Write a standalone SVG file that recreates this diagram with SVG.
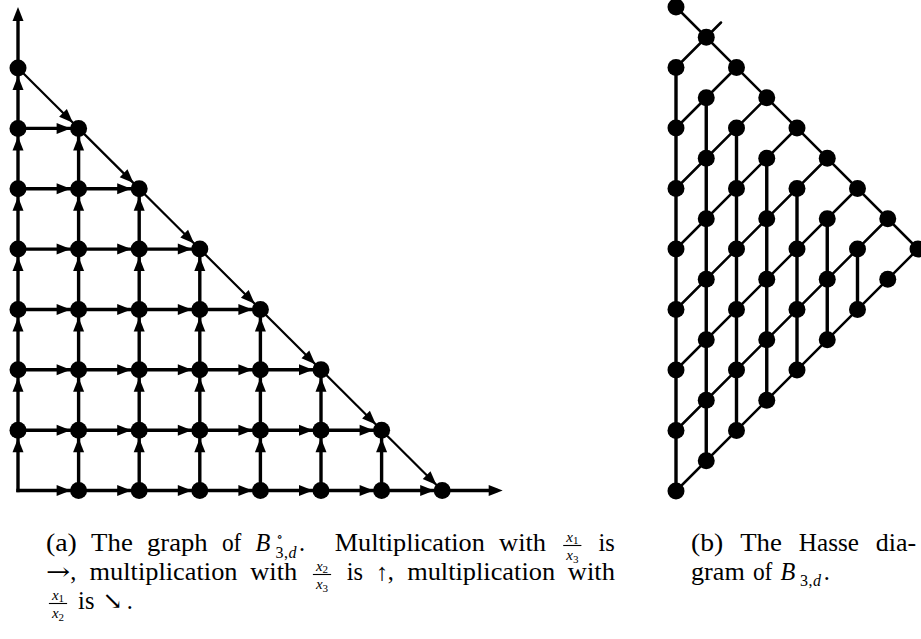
<svg xmlns="http://www.w3.org/2000/svg" width="921" height="639" viewBox="0 0 921 639">
<style>
.e{stroke:#000;stroke-width:3.4;stroke-linecap:square;fill:none;marker-end:url(#ah)}
.d{stroke-width:2.2}
.o{marker-end:url(#ae)}
.h{stroke:#000;stroke-width:3.4;fill:none}
.hd{stroke:#000;stroke-width:2.5;fill:none;stroke-linecap:round}
circle{fill:#000}
text{font-family:"Liberation Serif","DejaVu Serif",serif;font-size:24.2px;fill:#000}
.i{font-style:italic}
.s{font-size:15px}
.sb{font-size:16px}
.ss{font-size:11px}
.sym{font-family:"DejaVu Serif",serif}
.bar{stroke:#000;stroke-width:1.1}
</style>
<defs>
<marker id="ah" markerUnits="userSpaceOnUse" viewBox="-15 -7 16 14" markerWidth="16" markerHeight="14" refX="0" refY="0" orient="auto"><path d="M0 0L-14 -5.5L-14 5.5Z" fill="#000"/></marker>
<marker id="ae" markerUnits="userSpaceOnUse" viewBox="-15 -7 16 14" markerWidth="16" markerHeight="14" refX="-7" refY="0" orient="auto"><path d="M0 0L-14 -5.5L-14 5.5Z" fill="#000"/></marker>
</defs>
<g id="connectors-a">
<path class="e" d="M18 490.5h52.6"/><path class="e" d="M78.6 490.5h52.6"/><path class="e" d="M139.2 490.5h52.6"/><path class="e" d="M199.8 490.5h52.6"/><path class="e" d="M260.4 490.5h52.6"/><path class="e" d="M321 490.5h52.6"/><path class="e" d="M381.6 490.5h52.6"/>
<path class="e o" d="M442.2 490.5H495.7"/>
<path class="e" d="M18 430.2h52.6"/><path class="e" d="M78.6 430.2h52.6"/><path class="e" d="M139.2 430.2h52.6"/><path class="e" d="M199.8 430.2h52.6"/><path class="e" d="M260.4 430.2h52.6"/><path class="e" d="M321 430.2h52.6"/>
<path class="e" d="M18 369.8h52.6"/><path class="e" d="M78.6 369.8h52.6"/><path class="e" d="M139.2 369.8h52.6"/><path class="e" d="M199.8 369.8h52.6"/><path class="e" d="M260.4 369.8h52.6"/>
<path class="e" d="M18 309.5h52.6"/><path class="e" d="M78.6 309.5h52.6"/><path class="e" d="M139.2 309.5h52.6"/><path class="e" d="M199.8 309.5h52.6"/>
<path class="e" d="M18 249.1h52.6"/><path class="e" d="M78.6 249.1h52.6"/><path class="e" d="M139.2 249.1h52.6"/>
<path class="e" d="M18 188.8h52.6"/><path class="e" d="M78.6 188.8h52.6"/>
<path class="e" d="M18 128.4h52.6"/>
<path class="e" d="M18 490.5v-52.3"/><path class="e" d="M18 430.2v-52.4"/><path class="e" d="M18 369.8v-52.3"/><path class="e" d="M18 309.5v-52.4"/><path class="e" d="M18 249.1v-52.3"/><path class="e" d="M18 188.8v-52.4"/><path class="e" d="M18 128.4v-52.3"/>
<path class="e o" d="M18 68.1V14"/>
<path class="e" d="M78.6 490.5v-52.3"/><path class="e" d="M78.6 430.2v-52.4"/><path class="e" d="M78.6 369.8v-52.3"/><path class="e" d="M78.6 309.5v-52.4"/><path class="e" d="M78.6 249.1v-52.3"/><path class="e" d="M78.6 188.8v-52.4"/>
<path class="e" d="M139.2 490.5v-52.3"/><path class="e" d="M139.2 430.2v-52.4"/><path class="e" d="M139.2 369.8v-52.3"/><path class="e" d="M139.2 309.5v-52.4"/><path class="e" d="M139.2 249.1v-52.3"/>
<path class="e" d="M199.8 490.5v-52.3"/><path class="e" d="M199.8 430.2v-52.4"/><path class="e" d="M199.8 369.8v-52.3"/><path class="e" d="M199.8 309.5v-52.4"/>
<path class="e" d="M260.4 490.5v-52.3"/><path class="e" d="M260.4 430.2v-52.4"/><path class="e" d="M260.4 369.8v-52.3"/>
<path class="e" d="M321 490.5v-52.3"/><path class="e" d="M321 430.2v-52.4"/>
<path class="e" d="M381.6 490.5v-52.3"/>
<path class="e d" d="M18 68.1l54.93 54.71"/><path class="e d" d="M78.6 128.4l54.93 54.71"/><path class="e d" d="M139.2 188.8l54.93 54.71"/><path class="e d" d="M199.8 249.1l54.93 54.71"/><path class="e d" d="M260.4 309.5l54.93 54.71"/><path class="e d" d="M321 369.8l54.93 54.71"/><path class="e d" d="M381.6 430.2l54.93 54.71"/>
</g>
<g id="nodes-a">
<g id="a-0-1"><circle cx="18" cy="430.2" r="8.5"/></g><g id="a-0-2"><circle cx="18" cy="369.8" r="8.5"/></g><g id="a-0-3"><circle cx="18" cy="309.5" r="8.5"/></g><g id="a-0-4"><circle cx="18" cy="249.1" r="8.5"/></g><g id="a-0-5"><circle cx="18" cy="188.8" r="8.5"/></g><g id="a-0-6"><circle cx="18" cy="128.4" r="8.5"/></g><g id="a-0-7"><circle cx="18" cy="68.1" r="8.5"/></g>
<g id="a-1-0"><circle cx="78.6" cy="490.5" r="8.5"/></g><g id="a-1-1"><circle cx="78.6" cy="430.2" r="8.5"/></g><g id="a-1-2"><circle cx="78.6" cy="369.8" r="8.5"/></g><g id="a-1-3"><circle cx="78.6" cy="309.5" r="8.5"/></g><g id="a-1-4"><circle cx="78.6" cy="249.1" r="8.5"/></g><g id="a-1-5"><circle cx="78.6" cy="188.8" r="8.5"/></g><g id="a-1-6"><circle cx="78.6" cy="128.4" r="8.5"/></g>
<g id="a-2-0"><circle cx="139.2" cy="490.5" r="8.5"/></g><g id="a-2-1"><circle cx="139.2" cy="430.2" r="8.5"/></g><g id="a-2-2"><circle cx="139.2" cy="369.8" r="8.5"/></g><g id="a-2-3"><circle cx="139.2" cy="309.5" r="8.5"/></g><g id="a-2-4"><circle cx="139.2" cy="249.1" r="8.5"/></g><g id="a-2-5"><circle cx="139.2" cy="188.8" r="8.5"/></g>
<g id="a-3-0"><circle cx="199.8" cy="490.5" r="8.5"/></g><g id="a-3-1"><circle cx="199.8" cy="430.2" r="8.5"/></g><g id="a-3-2"><circle cx="199.8" cy="369.8" r="8.5"/></g><g id="a-3-3"><circle cx="199.8" cy="309.5" r="8.5"/></g><g id="a-3-4"><circle cx="199.8" cy="249.1" r="8.5"/></g>
<g id="a-4-0"><circle cx="260.4" cy="490.5" r="8.5"/></g><g id="a-4-1"><circle cx="260.4" cy="430.2" r="8.5"/></g><g id="a-4-2"><circle cx="260.4" cy="369.8" r="8.5"/></g><g id="a-4-3"><circle cx="260.4" cy="309.5" r="8.5"/></g>
<g id="a-5-0"><circle cx="321" cy="490.5" r="8.5"/></g><g id="a-5-1"><circle cx="321" cy="430.2" r="8.5"/></g><g id="a-5-2"><circle cx="321" cy="369.8" r="8.5"/></g>
<g id="a-6-0"><circle cx="381.6" cy="490.5" r="8.5"/></g><g id="a-6-1"><circle cx="381.6" cy="430.2" r="8.5"/></g>
<g id="a-7-0"><circle cx="442.2" cy="490.5" r="8.5"/></g>
</g>
<g id="connectors-b">
<path class="h" d="M676 67.5V491M706.25 97.75V460.75M736.5 128V430.5M766.75 158.25V400.25M797 188.5V370M827.25 218.75V339.75M857.5 249V309.5"/>
<path class="hd" d="M706.25 37.25L676 67.5M736.5 67.5L676 128M766.75 97.75L676 188.5M797 128L676 249M827.25 158.25L676 309.5M857.5 188.5L676 370M887.75 218.75L676 430.5M918 249L676 491"/>
<path class="hd" d="M676 7L918 249M706.25 37.25L721 22.5"/>
</g>
<g id="nodes-b">
<g id="b-0-0"><circle cx="676" cy="7" r="8.5"/></g><g id="b-0-1"><circle cx="676" cy="67.5" r="8.5"/></g><g id="b-0-2"><circle cx="676" cy="128" r="8.5"/></g><g id="b-0-3"><circle cx="676" cy="188.5" r="8.5"/></g><g id="b-0-4"><circle cx="676" cy="249" r="8.5"/></g><g id="b-0-5"><circle cx="676" cy="309.5" r="8.5"/></g><g id="b-0-6"><circle cx="676" cy="370" r="8.5"/></g><g id="b-0-7"><circle cx="676" cy="430.5" r="8.5"/></g><g id="b-0-8"><circle cx="676" cy="491" r="8.5"/></g>
<g id="b-1-0"><circle cx="706.25" cy="37.25" r="8.5"/></g><g id="b-1-1"><circle cx="706.25" cy="97.75" r="8.5"/></g><g id="b-1-2"><circle cx="706.25" cy="158.25" r="8.5"/></g><g id="b-1-3"><circle cx="706.25" cy="218.75" r="8.5"/></g><g id="b-1-4"><circle cx="706.25" cy="279.25" r="8.5"/></g><g id="b-1-5"><circle cx="706.25" cy="339.75" r="8.5"/></g><g id="b-1-6"><circle cx="706.25" cy="400.25" r="8.5"/></g><g id="b-1-7"><circle cx="706.25" cy="460.75" r="8.5"/></g>
<g id="b-2-0"><circle cx="736.5" cy="67.5" r="8.5"/></g><g id="b-2-1"><circle cx="736.5" cy="128" r="8.5"/></g><g id="b-2-2"><circle cx="736.5" cy="188.5" r="8.5"/></g><g id="b-2-3"><circle cx="736.5" cy="249" r="8.5"/></g><g id="b-2-4"><circle cx="736.5" cy="309.5" r="8.5"/></g><g id="b-2-5"><circle cx="736.5" cy="370" r="8.5"/></g><g id="b-2-6"><circle cx="736.5" cy="430.5" r="8.5"/></g>
<g id="b-3-0"><circle cx="766.75" cy="97.75" r="8.5"/></g><g id="b-3-1"><circle cx="766.75" cy="158.25" r="8.5"/></g><g id="b-3-2"><circle cx="766.75" cy="218.75" r="8.5"/></g><g id="b-3-3"><circle cx="766.75" cy="279.25" r="8.5"/></g><g id="b-3-4"><circle cx="766.75" cy="339.75" r="8.5"/></g><g id="b-3-5"><circle cx="766.75" cy="400.25" r="8.5"/></g>
<g id="b-4-0"><circle cx="797" cy="128" r="8.5"/></g><g id="b-4-1"><circle cx="797" cy="188.5" r="8.5"/></g><g id="b-4-2"><circle cx="797" cy="249" r="8.5"/></g><g id="b-4-3"><circle cx="797" cy="309.5" r="8.5"/></g><g id="b-4-4"><circle cx="797" cy="370" r="8.5"/></g>
<g id="b-5-0"><circle cx="827.25" cy="158.25" r="8.5"/></g><g id="b-5-1"><circle cx="827.25" cy="218.75" r="8.5"/></g><g id="b-5-2"><circle cx="827.25" cy="279.25" r="8.5"/></g><g id="b-5-3"><circle cx="827.25" cy="339.75" r="8.5"/></g>
<g id="b-6-0"><circle cx="857.5" cy="188.5" r="8.5"/></g><g id="b-6-1"><circle cx="857.5" cy="249" r="8.5"/></g><g id="b-6-2"><circle cx="857.5" cy="309.5" r="8.5"/></g>
<g id="b-7-0"><circle cx="887.75" cy="218.75" r="8.5"/></g><g id="b-7-1"><circle cx="887.75" cy="279.25" r="8.5"/></g>
<g id="b-8-0"><circle cx="918" cy="249" r="8.5"/></g>
</g>
<g id="caption-a">
<text x="46" y="551" textLength="30.9" lengthAdjust="spacingAndGlyphs">(a)</text>
<text x="91.1" y="551" textLength="41.7" lengthAdjust="spacingAndGlyphs">The</text>
<text x="147" y="551" textLength="60.6" lengthAdjust="spacingAndGlyphs">graph</text>
<text x="221.9" y="551" textLength="19.5" lengthAdjust="spacingAndGlyphs">of</text>
<text x="255.6" y="551" class="i">B</text>
<text x="276.5" y="541" class="sym" style="font-size:13px">∘</text>
<text y="558" class="sb"><tspan x="275.5">3</tspan><tspan x="284">,</tspan><tspan x="288.5" class="i">d</tspan></text>
<text x="298.9" y="551">.</text>
<text x="334.8" y="551" textLength="150" lengthAdjust="spacingAndGlyphs">Multiplication</text>
<text x="499" y="551" textLength="47.1" lengthAdjust="spacingAndGlyphs">with</text>
<text class="s" text-anchor="middle" x="572.3" y="541.5"><tspan class="i">x</tspan><tspan class="ss" dy="2.5">1</tspan></text>
<line class="bar" x1="563.2" y1="545.5" x2="581.4" y2="545.5"/>
<text class="s" text-anchor="middle" x="572.3" y="560"><tspan class="i">x</tspan><tspan class="ss" dy="2.5">3</tspan></text>
<text x="598.5" y="551" textLength="16.3" lengthAdjust="spacingAndGlyphs">is</text>
<text x="46" y="580"><tspan class="sym" textLength="24.2" lengthAdjust="spacingAndGlyphs">→</tspan><tspan x="70.2">,</tspan></text>
<text x="89.6" y="580" textLength="147.9" lengthAdjust="spacingAndGlyphs">multiplication</text>
<text x="250.2" y="580" textLength="47.1" lengthAdjust="spacingAndGlyphs">with</text>
<text class="s" text-anchor="middle" x="322" y="570.5"><tspan class="i">x</tspan><tspan class="ss" dy="2.5">2</tspan></text>
<line class="bar" x1="312.9" y1="574.5" x2="331.1" y2="574.5"/>
<text class="s" text-anchor="middle" x="322" y="589"><tspan class="i">x</tspan><tspan class="ss" dy="2.5">3</tspan></text>
<text x="346.7" y="580" textLength="16.3" lengthAdjust="spacingAndGlyphs">is</text>
<text x="375.7" y="580">↑<tspan x="387.8">,</tspan></text>
<text x="407.2" y="580" textLength="147.9" lengthAdjust="spacingAndGlyphs">multiplication</text>
<text x="567.8" y="580" textLength="47.1" lengthAdjust="spacingAndGlyphs">with</text>
<text class="s" text-anchor="middle" x="58" y="599.5"><tspan class="i">x</tspan><tspan class="ss" dy="2.5">1</tspan></text>
<line class="bar" x1="48.9" y1="603.5" x2="67.1" y2="603.5"/>
<text class="s" text-anchor="middle" x="58" y="618"><tspan class="i">x</tspan><tspan class="ss" dy="2.5">2</tspan></text>
<text x="78.1" y="609" textLength="16.3" lengthAdjust="spacingAndGlyphs">is</text>
<text x="102.5" y="609"><tspan class="sym">↘</tspan><tspan x="126.7">.</tspan></text>
</g>
<g id="caption-b">
<text x="691" y="551" textLength="32.3" lengthAdjust="spacingAndGlyphs">(b)</text>
<text x="740.2" y="551" textLength="41.7" lengthAdjust="spacingAndGlyphs">The</text>
<text x="798.8" y="551" textLength="60.1" lengthAdjust="spacingAndGlyphs">Hasse</text>
<text x="875.8" y="551" textLength="40.3" lengthAdjust="spacingAndGlyphs">dia-</text>
<text x="691" y="580" textLength="53.8" lengthAdjust="spacingAndGlyphs">gram</text>
<text x="752.9" y="580" textLength="19.5" lengthAdjust="spacingAndGlyphs">of</text>
<text x="780.5" y="580" class="i">B</text>
<text y="585.5" class="sb"><tspan x="800">3</tspan><tspan x="808.5">,</tspan><tspan x="813" class="i">d</tspan></text>
<text x="823.8" y="580">.</text>
</g>
</svg>
